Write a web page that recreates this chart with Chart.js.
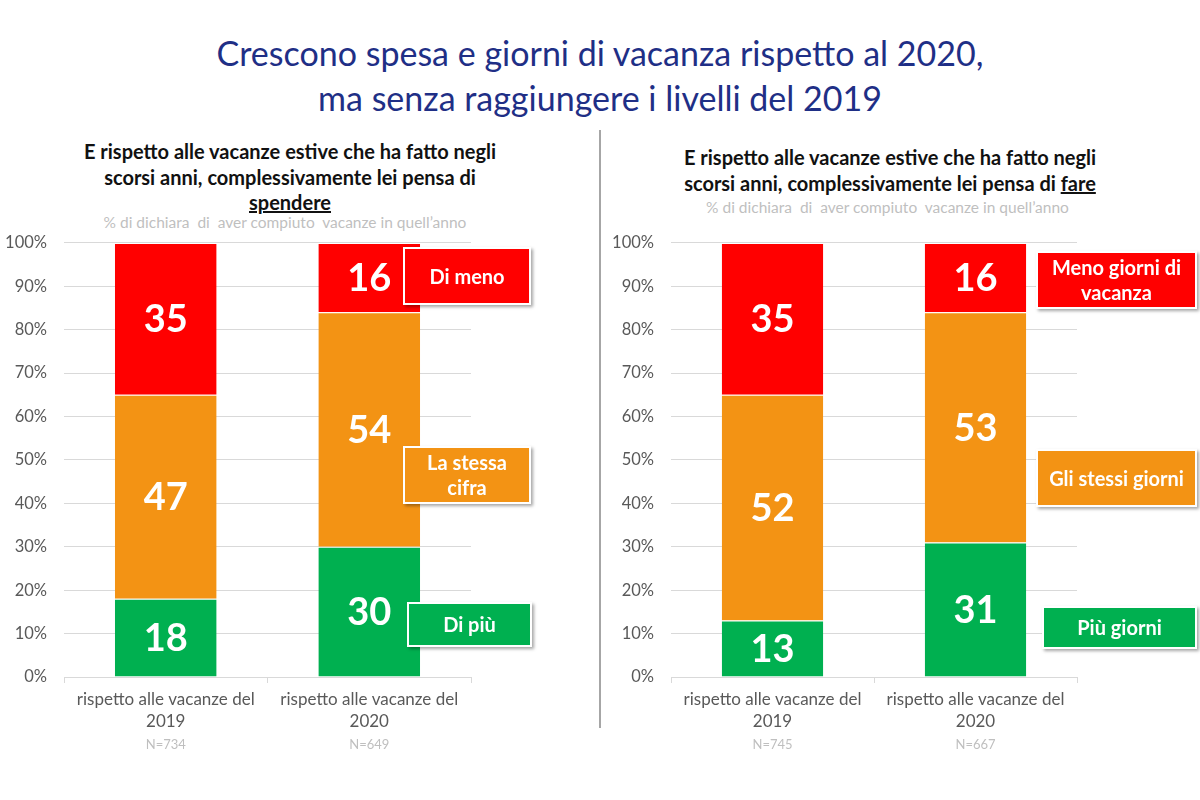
<!DOCTYPE html>
<html>
<head>
<meta charset="utf-8">
<script src="https://cdn.jsdelivr.net/npm/chart.js@4"></script>
<style>
  body { margin: 0; background: #fff; font-family: Lato, "Open Sans", sans-serif; }
  #page { position: relative; width: 1200px; height: 800px; overflow: hidden; }
  .title { position: absolute; left: 0; width: 1200px; top: 30px; text-align: center; color: #1f2f86; font-size: 34px; line-height: 45px; }
  .sub { position: absolute; text-align: center; font-weight: bold; color: #111; font-size: 20px; line-height: 25.5px; }
  .note { position: absolute; text-align: center; color: #bfbfbf; font-size: 15.5px; }
  .divider { position: absolute; left: 599px; top: 130px; width: 2px; height: 598px; background: #a6a6a6; }
  canvas { position: absolute; }
  .box { position: absolute; display: flex; align-items: center; justify-content: center; text-align: center;
         color: #fff; font-weight: bold; font-size: 20px; line-height: 25px; box-sizing: border-box;
         border: 2px solid #fff; box-shadow: 2px 2px 3px rgba(0,0,0,0.35); }
</style>
</head>
<body>
<div id="page">
  <div class="title">Crescono spesa e giorni di vacanza rispetto al 2020,<br>ma senza raggiungere i livelli del 2019</div>
  <div class="sub" style="left:0px; width:580px; top:139px;">E rispetto alle vacanze estive che ha fatto negli<br>scorsi anni, complessivamente lei pensa di<br><u>spendere</u></div>
  <div class="note" style="left:0px; width:570px; top:213px;">% di dichiara&nbsp; di&nbsp; aver compiuto&nbsp; vacanze in quell’anno</div>
  <div class="sub" style="left:600px; width:580px; top:145px;">E rispetto alle vacanze estive che ha fatto negli<br>scorsi anni, complessivamente lei pensa di <u>fare</u></div>
  <div class="note" style="left:600px; width:575px; top:198px;">% di dichiara&nbsp; di&nbsp; aver compiuto&nbsp; vacanze in quell’anno</div>
  <div class="divider"></div>
  <canvas id="left" width="600" height="574" style="left:0; top:216px;"></canvas>
  <canvas id="right" width="600" height="574" style="left:600px; top:216px;"></canvas>
  <div id="boxes"></div>
</div>
<script>
const categorie = [['rispetto alle vacanze del', '2019'], ['rispetto alle vacanze del', '2020']];
const yTicks = [0, 10, 20, 30, 40, 50, 60, 70, 80, 90, 100];

// grafico sinistro: spesa
const spesaNomi = ['Di più', 'La stessa cifra', 'Di meno'];
const spesaPiu = [18, 30];
const spesaStessa = [47, 54];
const spesaMeno = [35, 16];
const spesaN = ['N=734', 'N=649'];

// grafico destro: giorni
const giorniNomi = ['Più giorni', 'Gli stessi giorni', 'Meno giorni di vacanza'];
const giorniPiu = [13, 31];
const giorniStessi = [52, 53];
const giorniMeno = [35, 16];
const giorniN = ['N=745', 'N=667'];

const colori = ['#00b050', '#f39314', '#ff0000'];

// etichette bianche dentro le barre + N sotto l'asse
const etichettePlugin = {
  id: 'etichette',
  afterDatasetsDraw(chart) {
    const ctx = chart.ctx;
    ctx.save();
    ctx.fillStyle = '#fff';
    ctx.font = 'bold 38px Lato, "Open Sans", sans-serif';
    ctx.textAlign = 'center';
    ctx.textBaseline = 'middle';
    chart.data.datasets.forEach((ds, i) => {
      chart.getDatasetMeta(i).data.forEach((bar, j) => {
        const y = (bar.y + bar.base) / 2;
        ctx.fillText(ds.data[j], bar.x, y + 1);
      });
    });
    const enne = chart.options.plugins.etichette.enne;
    ctx.fillStyle = '#bfbfbf';
    ctx.font = '13px Lato, "Open Sans", sans-serif';
    enne.forEach((t, j) => {
      ctx.fillText(t, chart.scales.x.getPixelForValue(j), chart.scales.x.top + 68);
    });
    ctx.restore();
  }
};

function creaGrafico(id, nomi, piu, stessa, meno, enne, yWidth, padRight) {
  const serie = [piu, stessa, meno];
  return new Chart(document.getElementById(id), {
    type: 'bar',
    data: {
      labels: categorie,
      datasets: serie.map((d, i) => ({
        label: nomi[i],
        data: d,
        backgroundColor: colori[i],
        borderColor: '#fff',
        borderWidth: { top: 1, bottom: 0, left: 0, right: 0 },
        borderSkipped: false,
        categoryPercentage: 1,
        barPercentage: 0.5
      }))
    },
    options: {
      responsive: false,
      animation: false,
      layout: { padding: { top: 0, right: padRight, left: 0, bottom: 0 } },
      plugins: {
        legend: { display: false },
        tooltip: { enabled: false },
        etichette: { enne: enne }
      },
      scales: {
        x: {
          stacked: true,
          afterFit: s => { s.height = 113; },
          grid: { drawOnChartArea: false, drawTicks: true, tickLength: 6, color: '#d9d9d9' },
          border: { display: true, color: '#d9d9d9' },
          ticks: { color: '#595959', font: { size: 17, family: 'Lato', lineHeight: 1.3 }, padding: 5 }
        },
        y: {
          stacked: true,
          min: 0,
          max: 100,
          afterFit: s => { s.width = yWidth; },
          afterBuildTicks: s => { s.ticks = yTicks.map(v => ({ value: v })); },
          grid: { color: '#d9d9d9', drawTicks: false },
          border: { display: false },
          ticks: { color: '#595959', font: { size: 16.5, family: 'Lato' }, padding: 17, callback: v => v + '%' }
        }
      }
    },
    plugins: [etichettePlugin]
  });
}

creaGrafico('left', spesaNomi, spesaPiu, spesaStessa, spesaMeno, spesaN, 64, 129);
creaGrafico('right', giorniNomi, giorniPiu, giorniStessi, giorniMeno, giorniN, 71, 123);

// riquadri legenda
const riquadri = [
  { testo: 'Di meno', colore: 2, x: 403, y: 247, w: 128, h: 58 },
  { testo: 'La stessa<br>cifra', colore: 1, x: 403, y: 446, w: 128, h: 58 },
  { testo: 'Di più', colore: 0, x: 407, y: 602, w: 125, h: 45 },
  { testo: 'Meno giorni di<br>vacanza', colore: 2, x: 1036, y: 251, w: 161, h: 58 },
  { testo: 'Gli stessi giorni', colore: 1, x: 1036, y: 449, w: 161, h: 58 },
  { testo: 'Più giorni', colore: 0, x: 1042, y: 606, w: 155, h: 43 }
];
const boxes = document.getElementById('boxes');
riquadri.forEach(r => {
  const d = document.createElement('div');
  d.className = 'box';
  d.innerHTML = r.testo;
  d.style.cssText = `left:${r.x}px;top:${r.y}px;width:${r.w}px;height:${r.h}px;background:${colori[r.colore]};`;
  boxes.appendChild(d);
});
</script>
</body>
</html>
